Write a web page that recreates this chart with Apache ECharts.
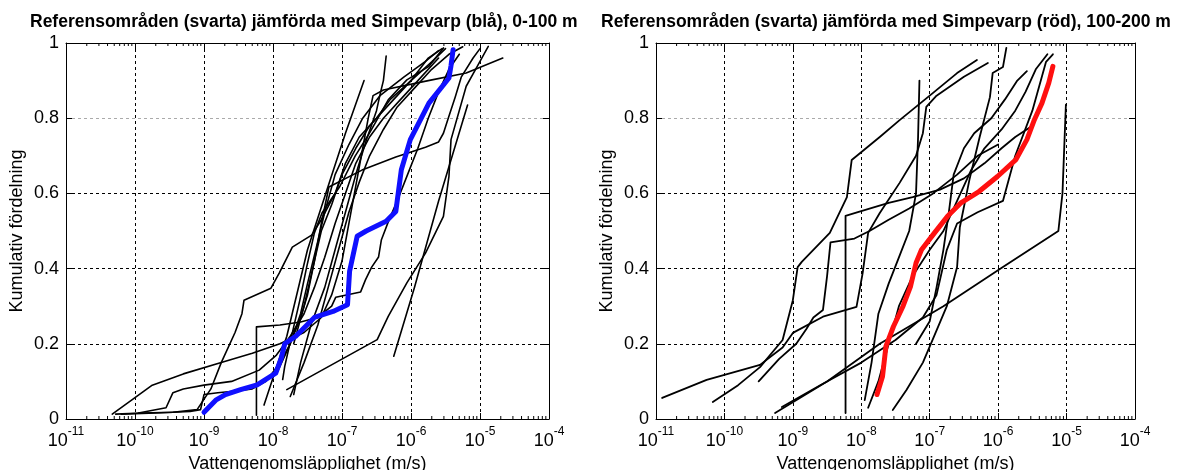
<!DOCTYPE html>
<html>
<head>
<meta charset="utf-8">
<script src="https://cdn.jsdelivr.net/npm/echarts@6/dist/echarts.min.js"></script>
<style>
html,body{margin:0;padding:0;background:#fff;}
#c{width:1177px;height:470px;}
</style>
</head>
<body>
<div id="c"></div>
<script>
// ---- data: x values are log10 of hydraulic conductivity (m/s), y is cumulative fraction ----
const titles = [
  'Referensområden (svarta) jämförda med Simpevarp (blå), 0-100 m',
  'Referensområden (svarta) jämförda med Simpevarp (röd), 100-200 m'
];
const xAxisName = 'Vattengenomsläpplighet (m/s)';
const yAxisName = 'Kumulativ fördelning';
const xExponents = [-11, -10, -9, -8, -7, -6, -5, -4];
const yTicks = [0, 0.2, 0.4, 0.6, 0.8, 1];

// Left panel (0-100 m)
const simpevarp0100 = [[-9.0,0.018],[-8.83,0.05],[-8.69,0.065],[-8.47,0.078],[-8.23,0.091],[-7.96,0.122],[-7.88,0.162],[-7.83,0.20],[-7.67,0.22],[-7.40,0.27],[-7.13,0.286],[-6.92,0.304],[-6.89,0.393],[-6.78,0.486],[-6.65,0.50],[-6.36,0.526],[-6.22,0.552],[-6.14,0.663],[-6.01,0.743],[-5.74,0.84],[-5.45,0.907],[-5.42,0.94],[-5.39,0.982]];
const refL1 = [[-10.33,0.013],[-10.05,0.05],[-9.75,0.09],[-9.3,0.12],[-8.75,0.15],[-8.3,0.175],[-7.9,0.2],[-7.55,0.23],[-7.3,0.27],[-7.15,0.33],[-7.0,0.42],[-6.9,0.52],[-6.8,0.62],[-6.7,0.72],[-6.62,0.8],[-6.55,0.86],[-6.4,0.875],[-5.75,0.9],[-5.2,0.92],[-4.67,0.96]];
const refL2 = [[-10.28,0.013],[-9.9,0.016],[-9.45,0.018],[-9.1,0.025],[-8.9,0.08],[-8.75,0.15],[-8.55,0.23],[-8.45,0.28],[-8.42,0.316],[-8.03,0.348],[-7.91,0.388],[-7.72,0.457],[-7.44,0.489],[-7.3,0.53],[-7.1,0.6],[-6.95,0.68],[-6.75,0.75],[-6.5,0.8],[-6.3,0.85],[-6.0,0.9],[-5.7,0.95],[-5.5,0.985]];
const refL3 = [[-10.2,0.013],[-9.7,0.016],[-9.2,0.02],[-9.05,0.025],[-9.0,0.065],[-8.8,0.07],[-8.5,0.075],[-8.3,0.08],[-8.1,0.1],[-7.9,0.15],[-7.75,0.2],[-7.6,0.27],[-7.5,0.33],[-7.4,0.42],[-7.3,0.5],[-7.15,0.57],[-7.0,0.65],[-6.8,0.72],[-6.6,0.78],[-6.3,0.84],[-6.0,0.9],[-5.75,0.96],[-5.55,0.985]];
const refL4 = [[-9.95,0.016],[-9.55,0.03],[-9.45,0.07],[-9.3,0.08],[-9.0,0.09],[-8.6,0.1],[-8.2,0.13],[-7.95,0.17],[-7.75,0.22],[-7.55,0.28],[-7.4,0.35],[-7.25,0.43],[-7.1,0.52],[-6.95,0.6],[-6.8,0.68],[-6.6,0.75],[-6.4,0.8],[-6.15,0.85],[-5.9,0.9],[-5.6,0.96]];
const refL5 = [[-8.24,0.01],[-8.24,0.245],[-7.9,0.25],[-7.6,0.258],[-7.35,0.27],[-7.15,0.3],[-7.09,0.324],[-6.73,0.338],[-6.66,0.37],[-6.57,0.404],[-6.47,0.431],[-6.43,0.476],[-6.32,0.529],[-6.2,0.58],[-6.05,0.65],[-5.9,0.72],[-5.75,0.8],[-5.6,0.87],[-5.45,0.93],[-5.3,0.97]];
const refL6 = [[-8.13,0.037],[-7.8,0.22],[-7.5,0.45],[-7.2,0.62],[-6.95,0.76],[-6.68,0.90]];
const refL7 = [[-7.7,0.065],[-7.6,0.15],[-7.45,0.25],[-7.25,0.35],[-7.1,0.45],[-6.95,0.55],[-6.8,0.65],[-6.65,0.74],[-6.5,0.82],[-6.44,0.87],[-6.4,0.9],[-6.36,0.965]];
const refL8 = [[-7.86,0.105],[-7.83,0.14],[-7.72,0.229],[-7.61,0.317],[-7.51,0.406],[-7.40,0.495],[-7.29,0.548],[-7.03,0.619],[-6.81,0.699],[-6.60,0.761],[-6.33,0.849],[-6.06,0.902],[-5.74,0.938],[-5.53,0.987]];
const refL9 = [[-7.80,0.078],[-6.49,0.211],[-6.33,0.273],[-6.06,0.362],[-5.79,0.441],[-5.53,0.539],[-5.45,0.645],[-5.42,0.743],[-5.20,0.885],[-5.04,0.938],[-4.88,0.991]];
const refL10 = [[-6.25,0.167],[-5.95,0.35],[-5.6,0.58],[-5.18,0.835]];
const refL11 = [[-7.7,0.2],[-7.55,0.3],[-7.4,0.42],[-7.3,0.52],[-7.19,0.617],[-6.71,0.662],[-6.22,0.697],[-5.79,0.723],[-5.60,0.737],[-5.53,0.76],[-5.46,0.80],[-5.36,0.856],[-5.27,0.91],[-5.1,0.96],[-5.0,0.985]];
const refL12 = [[-7.95,0.12],[-7.75,0.2],[-7.6,0.28],[-7.5,0.36],[-7.38,0.45],[-7.25,0.55],[-7.1,0.65],[-6.9,0.73],[-6.7,0.8],[-6.45,0.86],[-6.1,0.91],[-5.8,0.95],[-5.6,0.98]];
const refL13 = [[-7.75,0.06],[-7.55,0.15],[-7.35,0.25],[-7.2,0.35],[-7.05,0.45],[-6.9,0.55],[-6.75,0.63],[-6.6,0.7],[-6.4,0.77],[-6.2,0.83],[-5.95,0.88],[-5.7,0.93],[-5.45,0.97],[-5.25,0.99]];

// Right panel (100-200 m)
const simpevarp100200 = [[-7.77,0.065],[-7.69,0.113],[-7.64,0.193],[-7.53,0.246],[-7.39,0.30],[-7.28,0.353],[-7.20,0.415],[-7.12,0.45],[-6.93,0.495],[-6.74,0.539],[-6.55,0.574],[-6.28,0.605],[-6.01,0.645],[-5.74,0.69],[-5.58,0.743],[-5.47,0.796],[-5.36,0.84],[-5.26,0.894],[-5.20,0.938]];
const refR1 = [[-10.17,0.045],[-9.8,0.09],[-9.48,0.138],[-9.15,0.21],[-9.0,0.316],[-8.93,0.404],[-8.87,0.418],[-8.46,0.495],[-8.21,0.59],[-8.14,0.689],[-7.73,0.75],[-7.44,0.795],[-7.0,0.86],[-6.6,0.92],[-6.31,0.955]];
const refR2 = [[-10.91,0.056],[-10.26,0.104],[-9.48,0.144],[-9.15,0.19],[-9.0,0.229],[-8.56,0.272],[-8.07,0.298],[-7.98,0.388],[-7.9,0.495],[-7.73,0.548],[-7.44,0.628],[-7.2,0.7],[-7.1,0.76],[-7.05,0.83],[-6.9,0.86],[-6.5,0.91],[-6.15,0.947]];
const refR3 = [[-9.26,0.016],[-8.5,0.1],[-7.73,0.2],[-6.8,0.3],[-5.93,0.404],[-5.12,0.5],[-5.06,0.6],[-5.01,0.836]];
const refR4 = [[-9.16,0.032],[-8.6,0.09],[-8.0,0.15],[-7.5,0.21],[-7.1,0.27],[-6.9,0.33],[-6.75,0.45],[-6.6,0.52],[-6.3,0.55],[-5.93,0.58],[-5.75,0.7],[-5.5,0.82],[-5.3,0.95],[-5.2,0.97]];
const refR5 = [[-8.23,0.016],[-8.23,0.54],[-8.05,0.55],[-7.6,0.575],[-7.25,0.59],[-6.85,0.61],[-6.5,0.64],[-6.2,0.68],[-5.95,0.72],[-5.75,0.75],[-5.5,0.78]];
const refR6 = [[-7.95,0.05],[-7.85,0.15],[-7.75,0.28],[-7.6,0.36],[-7.45,0.43],[-7.3,0.5],[-7.2,0.6],[-7.17,0.75],[-7.15,0.90]];
const refR7 = [[-9.5,0.1],[-9.2,0.16],[-8.95,0.2],[-8.8,0.24],[-8.7,0.27],[-8.56,0.29],[-8.5,0.38],[-8.45,0.47],[-8.1,0.48],[-7.88,0.5],[-7.6,0.53],[-7.3,0.56],[-6.95,0.6],[-6.6,0.65],[-6.3,0.7],[-6.0,0.73]];
const refR8 = [[-7.54,0.024],[-7.34,0.077],[-7.1,0.15],[-6.96,0.21],[-6.75,0.3],[-6.6,0.404],[-6.56,0.51],[-6.42,0.636],[-6.27,0.75],[-6.12,0.856],[-6.08,0.92],[-5.93,0.936],[-5.88,0.987]];
const refR9 = [[-7.9,0.03],[-7.75,0.1],[-7.6,0.2],[-7.45,0.3],[-7.25,0.38],[-7.0,0.45],[-6.8,0.5],[-6.6,0.58],[-6.4,0.66],[-6.2,0.72],[-5.95,0.77],[-5.75,0.82],[-5.6,0.87],[-5.45,0.93],[-5.28,0.97]];
const refR10 = [[-7.2,0.2],[-7.0,0.26],[-6.9,0.35],[-6.8,0.45],[-6.72,0.55],[-6.65,0.65],[-6.5,0.72],[-6.35,0.76],[-6.1,0.8],[-5.9,0.85],[-5.72,0.9],[-5.58,0.925]];

const leftRefs = [refL1, refL2, refL3, refL4, refL5, refL6, refL7, refL8, refL9, refL10, refL11, refL12, refL13];
const rightRefs = [refR1, refR2, refR3, refR4, refR5, refR6, refR7, refR8, refR9, refR10];

// ---- chart ----
const FONT = '"Liberation Sans", Arial, sans-serif';
const chart = echarts.init(document.getElementById('c'), null, {renderer: 'canvas'});

const minorTickPositions = [];
for (let d = -11; d < -4; d++) for (let k = 2; k <= 9; k++) minorTickPositions.push([d + Math.log10(k)]);

const grids = [
  {left: 66, top: 43, width: 483, height: 376, containLabel: false, outerBoundsMode: 'none'},
  {left: 656, top: 43, width: 479, height: 376, containLabel: false, outerBoundsMode: 'none'}
];

function xAxes(gi) {
  const base = {
    type: 'value', gridIndex: gi, min: -11, max: -4, interval: 1,
    axisLine: {show: true, onZero: false, lineStyle: {color: '#000', width: 1}},
    axisTick: {show: true, inside: true, length: 6, lineStyle: {color: '#000'}},
    splitLine: {show: false}
  };
  return [
    Object.assign({}, base, {
      position: 'bottom',
      name: xAxisName, nameLocation: 'middle', nameGap: 34,
      nameTextStyle: {fontFamily: FONT, fontSize: 18, color: '#000'},
      splitLine: {show: true, lineStyle: {color: '#000', type: [3, 3], width: 1}},
      axisLabel: {
        margin: 7, color: '#000', fontFamily: FONT,
        formatter: v => '{b|10}{s|' + v + '}',
        rich: {
          b: {fontSize: 18, fontFamily: FONT, color: '#000', lineHeight: 24, verticalAlign: 'bottom'},
          s: {fontSize: 12, fontFamily: FONT, color: '#000', lineHeight: 24, verticalAlign: 'top'}
        }
      }
    }),
    Object.assign({}, base, {position: 'top', axisLabel: {show: false}})
  ];
}
function yAxes(gi) {
  const base = {
    type: 'value', gridIndex: gi, min: 0, max: 1, interval: 0.2,
    axisLine: {show: true, onZero: false, lineStyle: {color: '#000', width: 1}},
    axisTick: {show: true, inside: true, length: 6, lineStyle: {color: '#000'}},
    splitLine: {show: false}
  };
  return [
    Object.assign({}, base, {
      position: 'left',
      name: yAxisName, nameLocation: 'middle', nameGap: 40, nameRotate: 90,
      nameTextStyle: {fontFamily: FONT, fontSize: 18, color: '#000'},
      splitLine: {show: true, lineStyle: {color: ['#000', '#000', '#000', '#000', '#aaa', '#000'], type: [3, 3], width: 1}},
      axisLabel: {
        margin: 7, color: '#000', fontFamily: FONT, fontSize: 18,
        formatter: v => (v === 0 || v === 1) ? String(v) : v.toFixed(1)
      }
    }),
    Object.assign({}, base, {position: 'right', axisLabel: {show: false}})
  ];
}

const series = [];
function addLines(list, xi, yi, color, width, z) {
  list.forEach(pts => {
    series.push({
      type: 'line', xAxisIndex: xi, yAxisIndex: yi, data: pts,
      showSymbol: false, symbol: 'none', silent: true, z: z,
      lineStyle: {color: color, width: width, join: 'round', cap: 'round'}
    });
  });
}
addLines(leftRefs, 0, 0, '#000', 1.6, 3);
addLines([simpevarp0100], 0, 0, '#1010ff', 5, 5);
addLines(rightRefs, 2, 2, '#000', 1.8, 3);
addLines([simpevarp100200], 2, 2, '#ff1010', 5, 5);

[0, 2].forEach(ai => {
  series.push({
    type: 'custom', xAxisIndex: ai, yAxisIndex: ai, data: minorTickPositions, silent: true, z: 2,
    renderItem: (params, api) => {
      const x = api.value(0);
      const b = api.coord([x, 0]);
      const t = api.coord([x, 1]);
      const st = {stroke: '#000', lineWidth: 1};
      return {type: 'group', children: [
        {type: 'line', shape: {x1: b[0], y1: b[1], x2: b[0], y2: b[1] - 3}, style: st},
        {type: 'line', shape: {x1: t[0], y1: t[1], x2: t[0], y2: t[1] + 3}, style: st}
      ]};
    }
  });
});

chart.setOption({
  animation: false,
  backgroundColor: '#fff',
  title: [
    {text: titles[0], left: 30, top: 13, padding: 0, textStyle: {fontFamily: FONT, fontSize: 17.5, fontWeight: 'bold', color: '#000'}},
    {text: titles[1], left: 601, top: 13, padding: 0, textStyle: {fontFamily: FONT, fontSize: 17.5, fontWeight: 'bold', color: '#000'}}
  ],
  grid: grids,
  xAxis: xAxes(0).concat(xAxes(1)),
  yAxis: yAxes(0).concat(yAxes(1)),
  series: series
});
</script>
</body>
</html>
